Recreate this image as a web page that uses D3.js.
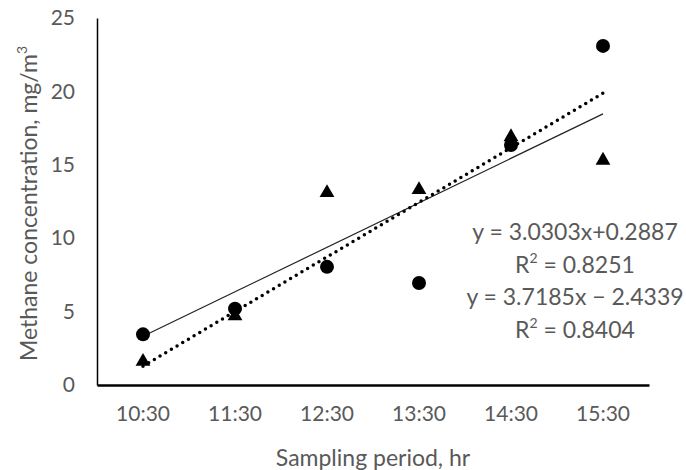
<!DOCTYPE html>
<html lang="en">
<head>
<meta charset="UTF-8">
<title>Methane concentration</title>
<script src="https://cdn.jsdelivr.net/npm/d3@7"></script>
<style>
  body { margin: 0; background: #fff; }
  text { font-family: Lato, "Open Sans", sans-serif; fill: #595959; }
</style>
</head>
<body>
<script>
// data
const periods = ['10:30', '11:30', '12:30', '13:30', '14:30', '15:30']
const circleValues = [3.45, 5.2, 8.05, 6.95, 16.35, 23.1]
const triangleValues = [1.6, 4.7, 13.1, 13.3, 16.9, 15.3]
const yTicks = [0, 5, 10, 15, 20, 25]

// trendline equations shown on the chart: y = slope * x + intercept, x = 1..6
const solidFit = { slope: 3.0303, intercept: 0.2887 }
const dottedFit = { slope: 3.7185, intercept: -2.4339 }
const eqLines = [
    { main: 'y = 3.0303x+0.2887' },
    { main: 'R', sup: '2', rest: ' = 0.8251' },
    { main: 'y = 3.7185x \u2212 2.4339' },
    { main: 'R', sup: '2', rest: ' = 0.8404' }
]

const width = 686
const height = 470
const margin = { top: 18, right: 37, bottom: 85, left: 97 }

const svg = d3.select('body').append('svg')
    .attr('width', width)
    .attr('height', height)

const xScale = d3.scaleBand()
    .domain(periods)
    .range([margin.left, width - margin.right])
    .padding(0)

const yScale = d3.scaleLinear()
    .domain([0, 25])
    .range([height - margin.bottom, margin.top])

const cx = (p) => xScale(p) + xScale.bandwidth() / 2

// axes
const xAxis = svg.append('g')
    .attr('transform', `translate(0, ${height - margin.bottom})`)
    .call(d3.axisBottom(xScale).tickSize(0).tickPadding(21))
xAxis.select('.domain').attr('stroke', '#000').attr('stroke-width', 2.5)
xAxis.selectAll('text').attr('font-size', 21).style('font-family', 'Lato, sans-serif').attr('fill', '#595959')

const yAxis = svg.append('g')
    .attr('transform', `translate(${margin.left}, 0)`)
    .call(d3.axisLeft(yScale).tickValues(yTicks).tickSize(0).tickPadding(22))
yAxis.select('.domain').attr('stroke', '#000').attr('stroke-width', 1.5)
yAxis.selectAll('text').attr('font-size', 21).style('font-family', 'Lato, sans-serif').attr('fill', '#595959')

// axis titles
svg.append('text')
    .attr('x', (margin.left + width - margin.right) / 2)
    .attr('y', 466)
    .attr('text-anchor', 'middle')
    .attr('font-size', 23)
    .text('Sampling period, hr')

const yTitle = svg.append('text')
    .attr('transform', `translate(37, ${(margin.top + height - margin.bottom) / 2 + 2}) rotate(-90)`)
    .attr('text-anchor', 'middle')
    .attr('font-size', 23)
yTitle.append('tspan').text('Methane concentration, mg/m')
yTitle.append('tspan').attr('font-size', 14).attr('dy', -10).text('3')

// trendlines
const fitLine = d3.line()
    .x((d) => cx(periods[d.i]))
    .y((d) => yScale(d.v))
const fitPoints = (f) => [0, periods.length - 1].map((i) => ({ i: i, v: f.slope * (i + 1) + f.intercept }))

svg.append('path')
    .datum(fitPoints(solidFit))
    .attr('d', fitLine)
    .attr('fill', 'none')
    .attr('stroke', '#222')
    .attr('stroke-width', 1.2)

svg.append('path')
    .datum(fitPoints(dottedFit))
    .attr('d', fitLine)
    .attr('fill', 'none')
    .attr('stroke', '#000')
    .attr('stroke-width', 3.5)
    .attr('stroke-linecap', 'round')
    .attr('stroke-dasharray', '0,6.6')

// markers
svg.selectAll('circle.pt')
    .data(circleValues)
    .enter()
    .append('circle')
    .attr('class', 'pt')
    .attr('cx', (d, i) => cx(periods[i]))
    .attr('cy', (d) => yScale(d))
    .attr('r', 7)
    .attr('fill', '#000')

const tri = d3.symbol().type(d3.symbolTriangle).size(95)
svg.selectAll('path.tri')
    .data(triangleValues)
    .enter()
    .append('path')
    .attr('class', 'tri')
    .attr('d', tri)
    .attr('transform', (d, i) => `translate(${cx(periods[i])}, ${yScale(d)})`)
    .attr('fill', '#000')

// equation labels
const eq = svg.append('g')
eqLines.forEach((l, i) => {
    const t = eq.append('text')
        .attr('x', 575)
        .attr('y', 240 + i * 32.5)
        .attr('text-anchor', 'middle')
        .attr('font-size', 23)
    t.append('tspan').text(l.main)
    if (l.sup) {
        t.append('tspan').attr('font-size', 14).attr('dy', -10).text(l.sup)
        t.append('tspan').attr('dy', 10).text(l.rest)
    }
})
</script>
</body>
</html>
